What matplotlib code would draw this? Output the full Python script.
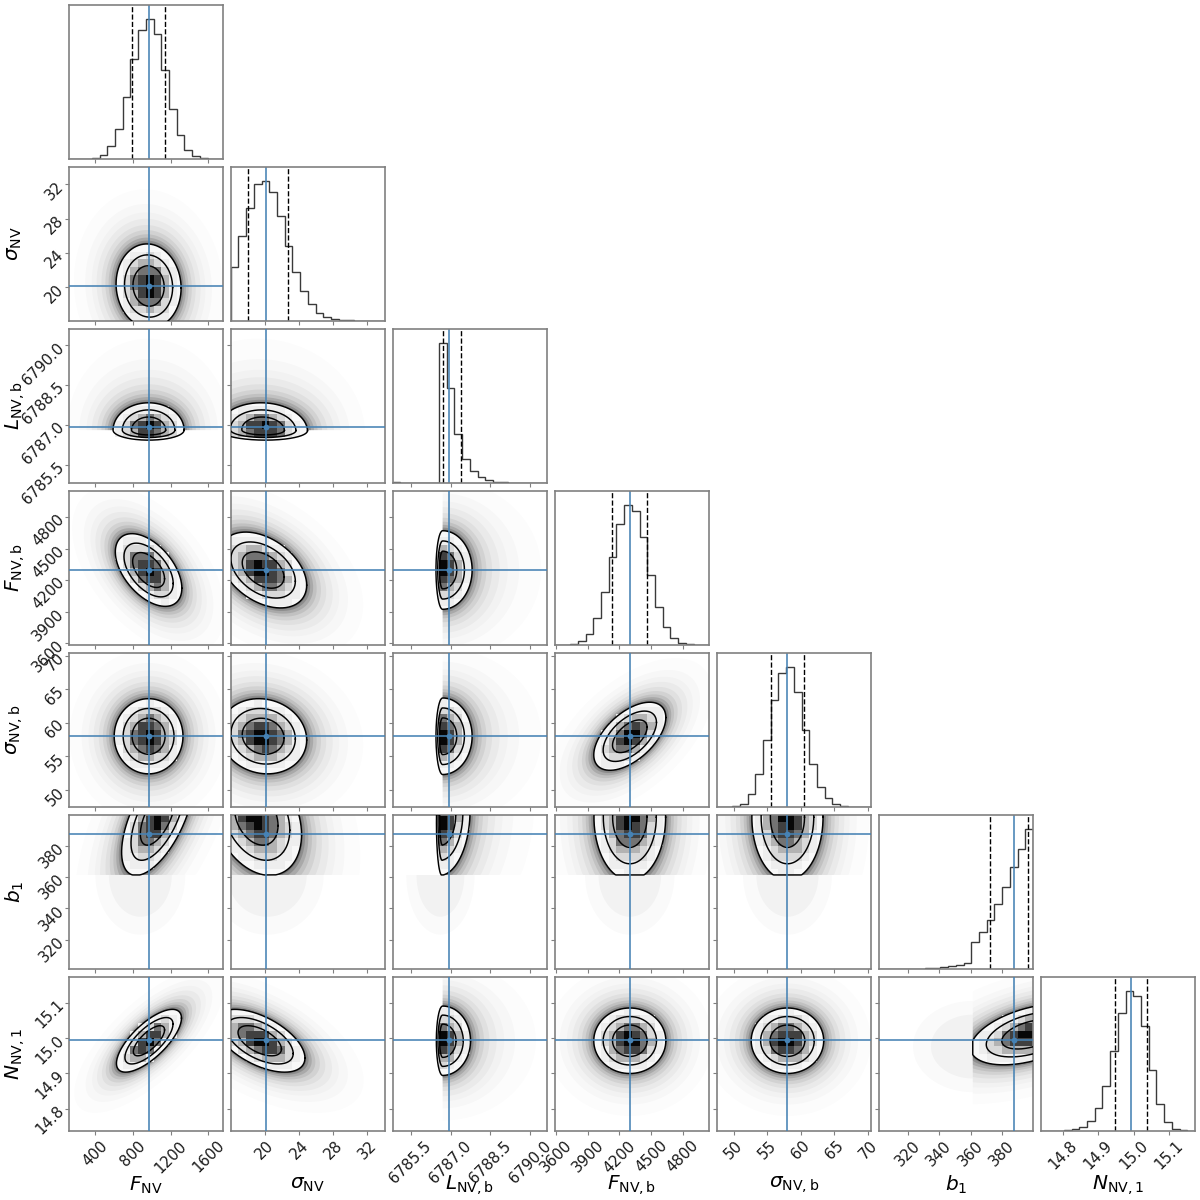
import numpy as np
import matplotlib
matplotlib.use("Agg")
import matplotlib.pyplot as plt
from matplotlib.path import Path

# ---- parameters: labels, ranges, ticks, quantiles
labels = [r"$F_{\rm NV}$", r"$\sigma_{\rm NV}$", r"$L_{\rm NV,b}$", r"$F_{\rm NV,b}$",
          r"$\sigma_{\rm NV,b}$", r"$b_1$", r"$N_{\rm NV,1}$"]
lims = [(118, 1756), (16.0, 34.08), (6784.82, 6790.63), (3585, 5050),
        (47.46, 70.45), (301.5, 399.6), (14.737, 15.173)]
ticks = [[400, 800, 1200, 1600], [20, 24, 28, 32], [6785.5, 6787.0, 6788.5, 6790.0],
         [3600, 3900, 4200, 4500, 4800], [50, 55, 60, 65, 70], [320, 340, 360, 380],
         [14.8, 14.9, 15.0, 15.1]]
tick_text = [["400", "800", "1200", "1600"], ["20", "24", "28", "32"],
             ["6785.5", "6787.0", "6788.5", "6790.0"],
             ["3600", "3900", "4200", "4500", "4800"], ["50", "55", "60", "65", "70"],
             ["320", "340", "360", "380"], ["14.8", "14.9", "15.0", "15.1"]]
medians = [966, 20.1, 6786.94, 4298, 58.0, 387.3, 14.993]
q16 = [786, 18.0, 6786.71, 4127, 55.56, 372.4, 14.946]
q84 = [1143, 22.7, 6787.40, 4463, 60.5, 396.4, 15.037]

# ---- histogram heights, 20 bins per parameter
hist_F = [0, 0, 1, 4, 13, 38, 91, 187, 300, 388, 421, 376, 267, 151, 71, 28, 9, 2, 0.5, 0]
hist_s = [161, 255, 339, 410, 420, 385, 314, 225, 146, 90, 50, 25, 12, 6, 3, 1.5, 1, 0.5, 0.3, 0]
hist_L = [2, 0.5, 0, 0, 0, 0, 421, 286, 146, 72, 36, 18, 8, 4, 2.5, 1.5, 1, 0.5, 0.3, 0.1]
hist_Fb = [0.3, 1, 3, 12, 34, 81, 159, 264, 363, 420, 400, 324, 210, 114, 53, 20, 7, 2, 0.5, 0.2]
hist_sb = [0, 0.5, 3, 9, 38, 98, 202, 319, 401, 420, 344, 232, 129, 60, 26, 8, 3, 1, 0.3, 0]
hist_b = [0.1, 0.1, 0.3, 0.5, 1, 1.5, 2.5, 3.5, 5, 8, 11, 17, 81, 111, 146, 194, 245, 305, 359, 421]
hist_N = [0.2, 0.5, 1, 3, 6, 12, 29, 70, 136, 239, 355, 421, 404, 316, 182, 82, 27, 7, 2, 0]
hists = [hist_F, hist_s, hist_L, hist_Fb, hist_sb, hist_b, hist_N]

# ---- outer contour per panel (col, row): centre x, half-width x, centre y, half-width y,
#      tilt, then the hard edges (xlo, ylo) of the posterior where they exist
outer = {
    (0, 1): (966, 345, 20.1, 4.93, -0.05, None, None),
    (0, 2): (966, 377, 6786.81, 1.03, 0.0, None, None),
    (1, 2): (19.8, 5.2, 6786.81, 1.03, -0.05, None, None),
    (0, 3): (966, 353, 4297, 345, -0.5, None, None),
    (1, 3): (19.8, 5.1, 4297, 360, -0.4, None, None),
    (2, 3): (6786.70, 1.11, 4297, 373, 0.0, None, None),
    (0, 4): (966, 365, 58.0, 5.6, 0.0, None, None),
    (1, 4): (19.8, 5.1, 58.0, 5.6, -0.1, None, None),
    (2, 4): (6786.70, 1.11, 58.0, 5.7, 0.0, None, None),
    (3, 4): (4298, 342, 58.0, 5.07, 0.55, None, None),
    (0, 5): (1062, 382, 398, 37, 0.6, None, 361.3),
    (1, 5): (19.0, 5.3, 398, 37, -0.3, None, 361.3),
    (2, 5): (6786.70, 1.03, 398, 37, 0.1, None, 361.3),
    (3, 5): (4298, 340, 398, 40, 0.0, None, 361.3),
    (4, 5): (58.0, 5.3, 398, 40, 0.0, None, 361.3),
    (0, 6): (970, 345, 14.992, 0.0887, 0.72, None, None),
    (1, 6): (19.4, 5.3, 14.992, 0.0887, -0.55, None, None),
    (2, 6): (6786.70, 1.05, 14.992, 0.098, 0.0, None, None),
    (3, 6): (4298, 342, 14.992, 0.0925, 0.0, None, None),
    (4, 6): (58.0, 5.4, 14.992, 0.0925, 0.0, None, None),
    (5, 6): (398, 38, 15.01, 0.086, 0.45, 361.3, None),
}
L_COL, L_ROW = 2, 2
x_squash = 0.226   # how flat the contour is on the low-L side, L column
y_squash = 0.365   # same, L row
L_halo_reach = 1.35  # the cloud reaches further towards high L
contour_scale = [1.0, 0.74, 0.48]
shade_scale = [0.9, 0.74, 0.6, 0.48, 0.36, 0.2]
shade_value = [0.93, 0.85, 0.7, 0.45, 0.25, 0.03]
halo_scale = [2.3, 1.95, 1.75, 1.6, 1.45, 1.33, 1.23, 1.15, 1.08, 1.03]
halo_alpha = [0.012, 0.018, 0.02, 0.03, 0.04, 0.06, 0.08, 0.12, 0.16, 0.2]

TRUTH = "#4682b4"
SPINE = "#808080"
plt.rcParams["font.family"] = "DejaVu Sans"
fig = plt.figure(figsize=(12, 12), dpi=100)
LEFT, TOP, SIZE, PITCH = 68.7, 4.7, 154.3, 162.0


def outline(key, scale, halo=False):
    cx, ax_, cy, ay, rho, xlo, ylo = outer[key]
    t = np.linspace(0, 2 * np.pi, 241)
    x = cx + scale * ax_ * np.cos(t)
    y = cy + scale * ay * (rho * np.cos(t) + np.sqrt(1 - rho ** 2) * np.sin(t))
    if xlo is not None:
        x = np.maximum(x, xlo)
    if ylo is not None:
        y = np.maximum(y, ylo)
    if key[0] == L_COL:
        if halo:
            x = cx + np.maximum(x - cx, 0) * (1 + (L_halo_reach - 1) * (scale - 1))
        else:
            x = np.where(x < cx, cx + (x - cx) * x_squash, x)
    if key[1] == L_ROW:
        if halo:
            y = cy + np.maximum(y - cy, 0) * (1 + (L_halo_reach - 1) * (scale - 1))
        else:
            y = np.where(y < cy, cy + (y - cy) * y_squash, y)
    return x, y


def style(ax, col, row):
    for s in ax.spines.values():
        s.set_color(SPINE)
        s.set_linewidth(1.2)
    ax.tick_params(length=2.6, width=0.8, color=SPINE, labelsize=10.8, pad=2.5, labelcolor="#1a1a1a")
    ax.set_xlim(lims[col])
    ax.set_xticks(ticks[col])
    if row == 6:
        ax.set_xticklabels(tick_text[col], rotation=45)
    else:
        ax.set_xticklabels([])


n = len(labels)
for row in range(n):
    for col in range(row + 1):
        ax = fig.add_axes([(LEFT + col * PITCH) / 1200,
                           1 - (TOP + row * PITCH + SIZE) / 1200,
                           SIZE / 1200, SIZE / 1200])
        style(ax, col, row)
        if col == row:
            edges = np.linspace(lims[col][0], lims[col][1], len(hists[col]) + 1)
            ax.stairs(hists[col], edges, color="#3a3a3a", lw=1.0)
            top = 1.1 * max(hists[col])
            ax.set_ylim(0, top)
            ax.set_yticks([])
            ax.vlines([q16[col], q84[col]], 0, top, colors="k", linestyles="--", lw=1.0)
            ax.axvline(medians[col], color=TRUTH, lw=1.15)
            continue
        ax.set_ylim(lims[row])
        ax.set_yticks(ticks[row])
        if col == 0:
            ax.set_yticklabels(tick_text[row], rotation=45, va="center", ha="right",
                               rotation_mode="anchor")
        else:
            ax.set_yticklabels([])
        key = (col, row)
        cx, ax_, cy, ay, rho, xlo, ylo = outer[key]
        th = np.linspace(0, np.pi, 61)
        if row == 5:   # thin tail below the hard edge in b1
            for f, a in zip([1.0, 0.7], [0.02, 0.03]):
                ax.fill(cx - rho * ax_ * 0.8 + 1.25 * f * ax_ * np.cos(th),
                        ylo - f * 38 * np.sin(th), color="k", alpha=a, lw=0, zorder=1)
        if col == 5:   # same tail, to the left of the hard edge
            for f, a in zip([1.0, 0.7], [0.02, 0.03]):
                ax.fill(xlo - f * 38 * np.sin(th), cy - 0.4 * ay + 1.5 * f * ay * np.cos(th),
                        color="k", alpha=a, lw=0, zorder=1)
        for s, a in zip(halo_scale, halo_alpha):
            x, y = outline(key, s, halo=True)
            ax.fill(x, y, color="k", alpha=a, lw=0, zorder=1)
        x, y = outline(key, 1.0)
        ax.fill(x, y, color="#f8f8f8", lw=0, zorder=2)
        # blocky grey cells on the 20 x 20 histogram grid of the panel
        xe = np.linspace(*lims[col], 21)
        ye = np.linspace(*lims[row], 21)
        xc, yc = np.meshgrid(0.5 * (xe[1:] + xe[:-1]), 0.5 * (ye[1:] + ye[:-1]))
        cells = np.ma.masked_all(xc.shape)
        pts = np.c_[xc.ravel(), yc.ravel()]
        for s, v in zip(shade_scale, shade_value):
            inside = Path(np.c_[outline(key, s)]).contains_points(pts).reshape(xc.shape)
            cells[inside] = v
        ax.pcolormesh(xe, ye, cells, cmap="gray", vmin=0, vmax=1, zorder=2.5, lw=0)
        for s in contour_scale:
            x, y = outline(key, s)
            ax.plot(x, y, color="k", lw=1.05, zorder=3)
        ax.axvline(medians[col], color=TRUTH, lw=1.15, zorder=4)
        ax.axhline(medians[row], color=TRUTH, lw=1.15, zorder=4)
        ax.plot([medians[col]], [medians[row]], "o", color=TRUTH, ms=4.2, mew=0, zorder=5)

for i, lab in enumerate(labels):
    fig.text((LEFT + i * PITCH + SIZE / 2) / 1200, 1 - 1185 / 1200, lab, fontsize=14.5,
             ha="center", va="center")
    if i > 0:
        fig.text(15 / 1200, 1 - (TOP + i * PITCH + SIZE / 2) / 1200, lab, fontsize=14.5,
                 rotation=90, ha="center", va="center")

fig.savefig("out.png", dpi=100)
